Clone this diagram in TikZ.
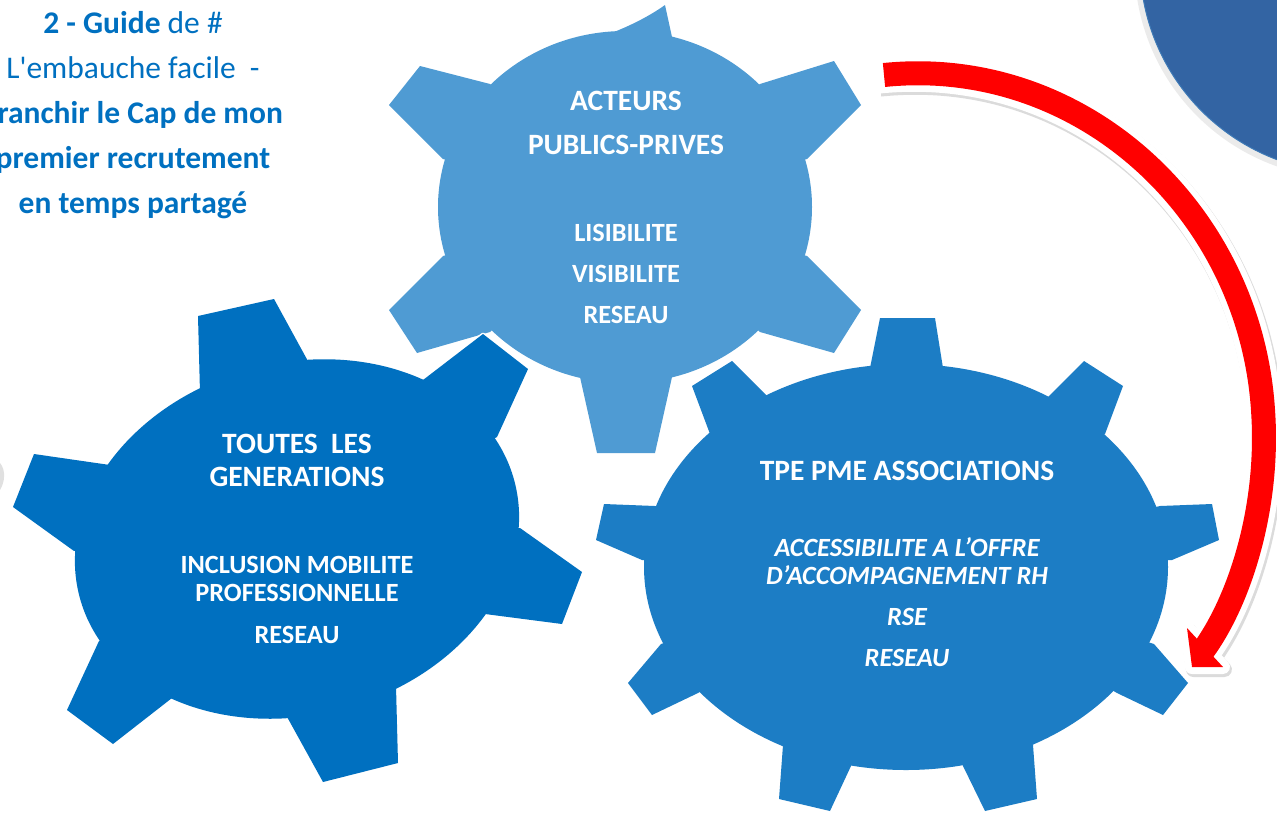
\documentclass[tikz,border=0pt]{standalone}
\usepackage{fontspec}
\setmainfont{Carlito}
\definecolor{cogT}{HTML}{4F9BD3}
\definecolor{cogL}{HTML}{0070C0}
\definecolor{cogR}{HTML}{1C7DC5}
\definecolor{disc}{HTML}{3364A3}
\definecolor{titleblue}{HTML}{0070C0}
% teeth: base / tip / tip / base
\def\teethT{443/159/389/105/420/66/490/84, 760/84/834/61/861/105/807/159, 807/256/861/310/834/353/760/332, 672/377/655/453/597/453/580/377, 490/332/417/353/389/310/443/256}
\def\teethL{200/393/198/316/274/299/309/363, 423/380/483/334/528/369/497/437, 520/528/582/572/562/624/485/614, 396/686/398/763/323/782/286/715, 172/698/113/744/67/710/99/641, 74/551/13/507/34/454/110/465}
\def\teethR{870/368/880/318/935/318/943/368, 1048/397/1084/361/1123/386/1105/434, 1160/506/1212/504/1219/540/1172/560, 1154/644/1188/683/1163/715/1117/693, 1033/745/1037/799/985/811/963/766, 851/766/830/811/779/799/783/745, 698/693/652/715/628/683/661/644, 642/560/596/540/604/504/655/506, 710/434/692/386/732/361/768/397}
\begin{document}
\begin{tikzpicture}[x=1pt, y=-1pt, line join=round,
  rim/.style={draw=white, line width=3pt},
  topcog/.style={fill=cogT}, leftcog/.style={fill=cogL}, rightcog/.style={fill=cogR},
  head/.style={text=white, inner sep=0pt, font=\bfseries\fontsize{29.5}{35}\selectfont},
  body/.style={text=white, inner sep=0pt, font=\bfseries\fontsize{26.3}{31}\selectfont},
  bodyit/.style={text=white, inner sep=0pt, font=\bfseries\itshape\fontsize{26.3}{31}\selectfont},
  title/.style={text=titleblue, inner sep=0pt, anchor=base, font=\fontsize{31.5}{38}\selectfont}]
\useasboundingbox (0,0) rectangle (1277,812);
\clip (0,0) rectangle (1277,812);
% disc in the corner
\fill[black, opacity=.08] (1348,-35) circle (213.5);
\fill[disc, draw=cogT!40!disc, line width=1pt] (1351,-38) circle (211);
\fill[black!12] (0,463) .. controls (6,470) and (5,482) .. (0,490) -- cycle;
% top gear
\foreach \xa/\ya/\xb/\yb/\xc/\yc/\xd/\yd in \teethT
  \fill[topcog] (\xa,\ya)--(\xb,\yb)--(\xc,\yc)--(\xd,\yd)--(625,207)--cycle;
\fill[topcog] (528,57) .. controls (580,46) and (630,30) .. (665,5) -- (672,37) -- (625,207) -- cycle;
\fill[topcog] (625,207) ellipse [x radius=187, y radius=176];
% left gear
\foreach \st in {rim, leftcog}{
  \foreach \xa/\ya/\xb/\yb/\xc/\yc/\xd/\yd in \teethL
    \path[\st] (\xa,\ya)--(\xb,\yb)--(\xc,\yc)--(\xd,\yd)--(297,539)--cycle;
  \path[\st, rotate around={15:(297,539)}] (297,539) ellipse [x radius=225, y radius=176];
}
% right gear
\foreach \st in {rim, rightcog}{
  \foreach \xa/\ya/\xb/\yb/\xc/\yc/\xd/\yd in \teethR
    \path[\st] (\xa,\ya)--(\xb,\yb)--(\xc,\yc)--(\xd,\yd)--(906,567)--cycle;
  \path[\st] (906,567) ellipse [x radius=262, y radius=203];
}
% red arrow
\coordinate (a0) at (884,75);
\coordinate (a1) at (1263,410);
\coordinate (a2) at (1202,652);
\coordinate (tip) at (1192,667);
\begin{scope}[transform canvas={shift={(1.5pt,-2.5pt)}}]
  \draw[black!14, line width=37pt, shorten <=-6pt] (a0) .. controls (1080,55) and (1250,210) .. (a1) .. controls (1270,510) and (1238,604) .. (a2);
  \draw[black!14, fill=black!14, line width=15pt] (1187,628) -- (tip) -- (1223,667) -- cycle;
\end{scope}
\draw[white, line width=36pt, shorten <=-6pt] (a0) .. controls (1080,55) and (1250,210) .. (a1) .. controls (1270,510) and (1238,604) .. (a2);
\draw[white, fill=white, line width=14pt] (1187,628) -- (tip) -- (1223,667) -- cycle;
\draw[red, line width=24pt] (a0) .. controls (1080,55) and (1250,210) .. (a1) .. controls (1270,510) and (1238,604) .. (a2);
\fill[red] (1187,628) -- (tip) -- (1223,667) -- cycle;
% texts
\foreach \y/\t [count=\i] in {33/{\textbf{2 - Guide} de \#}, 78/{L\textquotesingle embauche facile\ \ -}, 123/\textbf{Franchir le Cap de mon}, 168/\textbf{premier recrutement}, 213/\textbf{en temps partagé}}
  \node[title] (title\i) at (133,\y) {\t};
\foreach \y/\t/\s [count=\i] in {101/ACTEURS/head, 145/PUBLICS-PRIVES/head, 233/LISIBILITE/body, 274/VISIBILITE/body, 315/RESEAU/body}
  \node[\s] (acteurs\i) at (626,\y) {\t};
\foreach \y/\t/\s [count=\i] in {444/TOUTES\ \ LES/head, 477/GENERATIONS/head, 565/INCLUSION MOBILITE/body, 593/PROFESSIONNELLE/body, 635/RESEAU/body}
  \node[\s] (generations\i) at (297,\y) {\t};
\foreach \y/\t/\s [count=\i] in {471/TPE PME ASSOCIATIONS/head, 547/ACCESSIBILITE A L’OFFRE/bodyit, 575/D’ACCOMPAGNEMENT RH/bodyit, 617/RSE/bodyit, 658/RESEAU/bodyit}
  \node[\s] (tpe\i) at (907,\y) {\t};
\end{tikzpicture}
\end{document}
